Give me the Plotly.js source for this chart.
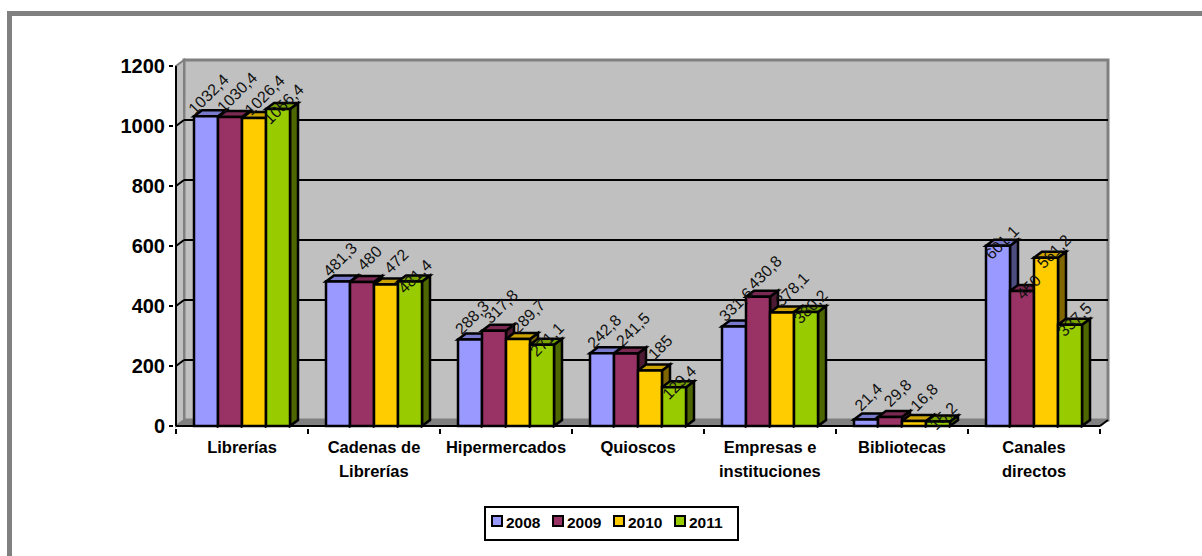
<!DOCTYPE html>
<html>
<head>
<meta charset="utf-8">
<script src="https://cdn.plot.ly/plotly-3.0.1.min.js"></script>
<style>html,body{margin:0;padding:0;background:#fff;overflow:hidden}#chart{width:1202px;height:556px}</style>
</head>
<body>
<div id="chart"></div>
<script>
const categories = ["Librerías","Cadenas de","Hipermercados","Quioscos","Empresas e","Bibliotecas","Canales"];
const categorySecondLines = ["","Librerías","","","instituciones","","directos"];
const series2008 = [1032.4,481.3,288.3,242.8,331.6,21.4,601.1];
const series2009 = [1030.4,480,317.8,241.5,430.8,29.8,450];
const series2010 = [1026.4,472,289.7,185,378.1,16.8,561.2];
const series2011 = [1056.4,481.4,271.1,129.4,380.2,15.2,337.5];
const seriesNames = ["2008","2009","2010","2011"];
const faceColors = ["#9999FF","#993366","#FFCC00","#99CC00"];
const topColors = ["#7A7ACC","#7A2952","#CCA300","#7AA300"];
const sideColors = ["#4D4D80","#4D1A33","#806600","#4D6600"];
const yTicks = [0,200,400,600,800,1000,1200];

const allSeries = [series2008,series2009,series2010,series2011];
const pxPerCat = 132, pxPerVal = 0.3;
const depthX = 8/pxPerCat, depthY = 6/pxPerVal, barW = 24/pxPerCat;
const labelFont = {family:'"Liberation Sans",Arial,sans-serif',size:16,color:'#111'};
const boldFont = s => ({family:'"Liberation Sans",Arial,sans-serif',size:s,color:'#000',weight:'bold'});
// label offset from the centre of a bar's top, per series, in pixels
const labelShift = [[2,22],[7,24],[10,23],[5,5]];
const lastGroupShift = [[4,3],[6,4],[8,6],[5,5]];

// plot area in page pixels; paper coordinates are relative to it
const plotL = 174, plotR = 1111, plotT = 56, plotB = 428;
const pageX = p => (p-plotL)/(plotR-plotL), pageY = p => (plotB-p)/(plotB-plotT);

const poly = pts => 'M'+pts.map(p=>p[0]+','+p[1]).join('L')+'Z';
const shapes = [
  {type:'rect',xref:'paper',yref:'paper',x0:pageX(7),x1:pageX(1202),y0:pageY(16),y1:pageY(11),fillcolor:'#808080',line:{width:0},layer:'below'},
  {type:'rect',xref:'paper',yref:'paper',x0:pageX(7),x1:pageX(12),y0:pageY(556),y1:pageY(11),fillcolor:'#808080',line:{width:0},layer:'below'}
];
const addPoly = (pts,fill,color,width) => shapes.push({type:'path',path:poly(pts),xref:'x',yref:'y',layer:'below',fillcolor:fill,line:{color:color,width:width}});
const addLine = (x0,y0,x1,y1,color,width) => shapes.push({type:'line',x0,y0,x1,y1,xref:'x',yref:'y',layer:'below',line:{color:color,width:width}});

const n = categories.length, yMax = yTicks[yTicks.length-1];
addPoly([[depthX,depthY],[n+depthX,depthY],[n+depthX,yMax+depthY],[depthX,yMax+depthY]],'#C0C0C0','#808080',3);
addPoly([[0,0],[depthX,depthY],[depthX,yMax+depthY],[0,yMax]],'#C0C0C0','#808080',2);
addPoly([[0,0],[n,0],[n+depthX,depthY],[depthX,depthY]],'#808080','#808080',1);
yTicks.slice(1,-1).forEach(v=>{
  addLine(depthX,v+depthY,n+depthX,v+depthY,'#000',2);
  addLine(0,v,depthX,v+depthY,'#000',2);
});
addLine(0,0,0,yMax,'#000',2);
addLine(0,0,n,0,'#000',2);
addLine(n,0,n+depthX,depthY,'#000',2);

const annotations = [];
categories.forEach((c,i)=>{
  allSeries.forEach((vals,s)=>{
    const v = vals[i];
    const l = i+0.5-2*barW+s*barW, r = l+barW;
    addPoly([[r,0],[r+depthX,depthY],[r+depthX,v+depthY],[r,v]],sideColors[s],'#000',2.5);
    addPoly([[l,v],[l+depthX,v+depthY],[r+depthX,v+depthY],[r,v]],topColors[s],'#000',2.5);
    const sh = (i===n-1?lastGroupShift:labelShift)[s];
    annotations.push({x:(l+r)/2,y:v,xref:'x',yref:'y',text:String(v).replace('.',','),showarrow:false,
      textangle:-45,xanchor:'center',yanchor:'middle',xshift:sh[0],yshift:sh[1],font:labelFont});
  });
  if(categorySecondLines[i]) annotations.push({x:i+0.5,y:0,xref:'x',yref:'y',text:categorySecondLines[i],showarrow:false,
    xanchor:'center',yanchor:'middle',yshift:-45,font:boldFont(16.5)});
});

// legend box: swatches sit tight against their text, which a native legend cannot do
shapes.push({type:'rect',xref:'paper',yref:'paper',x0:pageX(485),x1:pageX(738),y0:pageY(540),y1:pageY(507),fillcolor:'#fff',line:{color:'#000',width:2}});
seriesNames.forEach((name,s)=>{
  const x = 492+61*s;
  shapes.push({type:'rect',xref:'paper',yref:'paper',x0:pageX(x),x1:pageX(x+10),y0:pageY(526),y1:pageY(516),fillcolor:faceColors[s],line:{color:'#000',width:2}});
  annotations.push({xref:'paper',yref:'paper',x:pageX(x+12),y:pageY(522),text:name,showarrow:false,xanchor:'left',yanchor:'middle',font:boldFont(15.5)});
});

const centers = categories.map((c,i)=>i+0.5);
const traces = allSeries.map((vals,s)=>({type:'bar',x:centers,y:vals,name:seriesNames[s],
  marker:{color:faceColors[s],line:{color:'#000',width:2.5}},hoverinfo:'x+y'}));

const layout = {
  width:1202,height:556,autosize:false,
  margin:{l:plotL,r:1202-plotR,t:plotT,b:556-plotB,pad:0},
  paper_bgcolor:'#fff',plot_bgcolor:'rgba(0,0,0,0)',
  barmode:'group',bargap:1.5/5.5,bargroupgap:0,
  xaxis:{range:[-2/pxPerCat,n+11/pxPerCat],showgrid:false,zeroline:false,showline:false,
    tickmode:'array',tickvals:centers,ticktext:categories,ticks:'',tickangle:0,tickfont:boldFont(16.5),ticklabelstandoff:7,
    minor:{tickmode:'array',tickvals:[0,1,2,3,4,5,6,7],ticks:'outside',ticklen:5,tickwidth:2,tickcolor:'#000',showgrid:false}},
  yaxis:{range:[-2/pxPerVal,370/pxPerVal],showgrid:false,zeroline:false,showline:false,
    tickmode:'array',tickvals:yTicks,ticks:'outside',ticklen:4,tickwidth:2,tickcolor:'#000',tickfont:boldFont(20)},
  shapes:shapes,annotations:annotations,
  showlegend:false
};
Plotly.newPlot('chart',traces,layout,{displayModeBar:false,staticPlot:true});
</script>
</body>
</html>
